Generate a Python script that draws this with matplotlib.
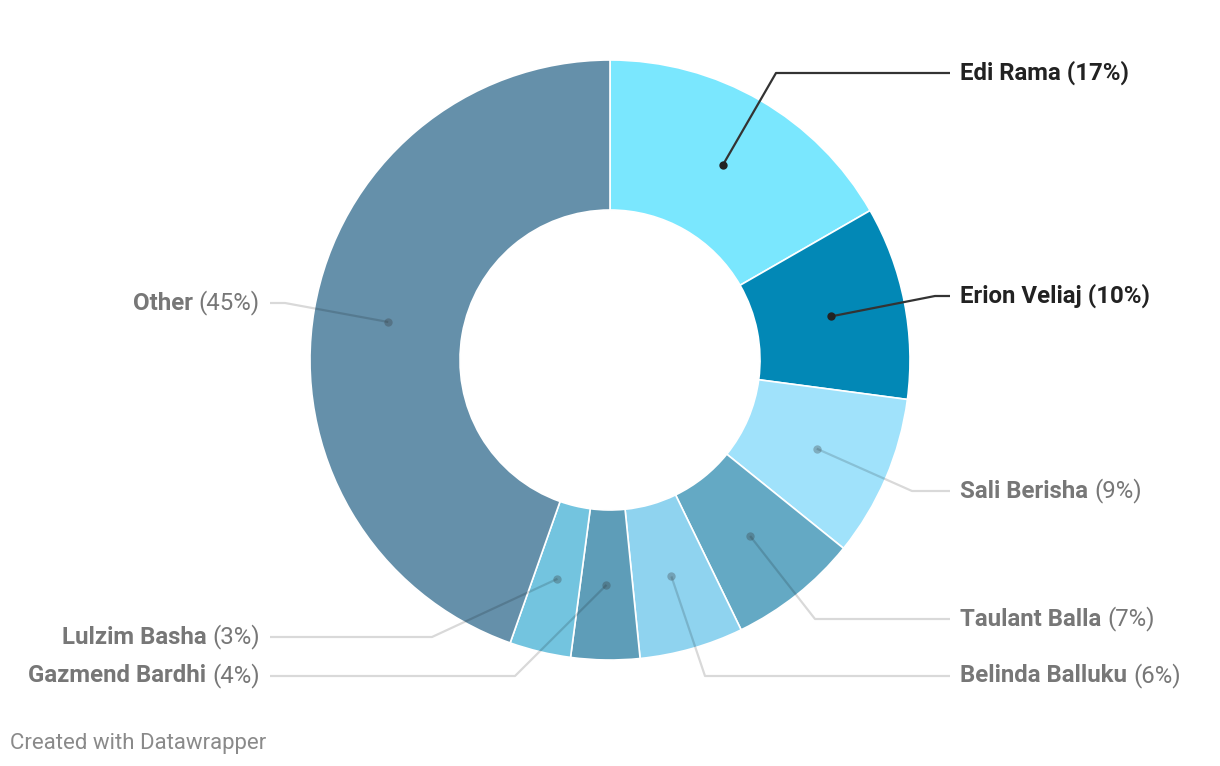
import numpy as np
import matplotlib
matplotlib.use("Agg")
import matplotlib.pyplot as plt

# data (share of mentions, %)
names = ['Edi Rama', 'Erion Veliaj', 'Sali Berisha', 'Taulant Balla',
         'Belinda Balluku', 'Gazmend Bardhi', 'Lulzim Basha', 'Other']
shares = [16.7, 10.4, 8.7, 7.0, 5.6, 3.7, 3.3, 44.6]
colors = ['#7ae7fe', '#0288b6', '#a0e2fb', '#64a9c4',
          '#8fd3ef', '#5e9db8', '#73c4df', '#6590aa']
highlight = ['Edi Rama', 'Erion Veliaj']

# label layout in pixels (y measured from top): elbow x, elbow y, side
layout = {
    'Edi Rama': (776, 73, 'r'),
    'Erion Veliaj': (935, 296, 'r'),
    'Sali Berisha': (912, 491, 'r'),
    'Taulant Balla': (815, 619, 'r'),
    'Belinda Balluku': (705, 676, 'r'),
    'Gazmend Bardhi': (515, 676, 'l'),
    'Lulzim Basha': (432, 637, 'l'),
    'Other': (285, 303, 'l'),
}

W, H = 1220, 766
cx, cy = 610, H - 360
R = 300

plt.rcParams['font.family'] = ['Roboto', 'DejaVu Sans']
fig = plt.figure(figsize=(W / 100, H / 100), dpi=100)
ax = fig.add_axes([0, 0, 1, 1])

wedges, _ = ax.pie(shares, radius=R, center=(cx, cy), startangle=90,
                   counterclock=False, colors=colors,
                   wedgeprops=dict(width=150, edgecolor='white', linewidth=1.2))
ax.set_xlim(0, W)
ax.set_ylim(0, H)
ax.set_aspect('equal')
ax.axis('off')

fs = 17.3
renderer = fig.canvas.get_renderer()

for w, name, val in zip(wedges, names, shares):
    mid = np.deg2rad((w.theta1 + w.theta2) / 2)
    px = cx + 225 * np.cos(mid)
    py = cy + 225 * np.sin(mid)
    ex, ey, side = layout[name]
    ey = H - ey
    endx = 950 if side == 'r' else 270
    hi = name in highlight
    if hi:
        lc, la, tc = '#333333', 1.0, '#222222'
    else:
        lc, la, tc = '#000000', 0.15, '#777777'
    ax.plot([px, ex, endx], [py, ey, ey], color=lc, alpha=la, lw=1.6,
            solid_capstyle='butt', zorder=3)
    ax.plot(px, py, 'o', ms=6, color='#222222' if hi else '#333333',
            alpha=1.0 if hi else 0.3, mec='none', zorder=4)
    pct = '(%d%%)' % round(val)
    if side == 'r':
        if hi:
            ax.text(960, ey, name + ' ' + pct, ha='left', va='center',
                    fontsize=fs, fontweight='bold', color=tc)
        else:
            t = ax.text(960, ey, name + ' ', ha='left', va='center',
                        fontsize=fs, fontweight='bold', color=tc)
            bb = t.get_window_extent(renderer)
            ax.text(bb.x1, ey, pct, ha='left', va='center',
                    fontsize=fs, color=tc)
    else:
        t = ax.text(260, ey, pct, ha='right', va='center',
                    fontsize=fs, color=tc)
        bb = t.get_window_extent(renderer)
        ax.text(bb.x0, ey, name + ' ', ha='right', va='center',
                fontsize=fs, fontweight='bold', color=tc)

ax.text(10, H - 743, 'Created with Datawrapper', ha='left', va='center',
        fontsize=16, color='#8a8a8a')

fig.savefig('out.png', dpi=100)
